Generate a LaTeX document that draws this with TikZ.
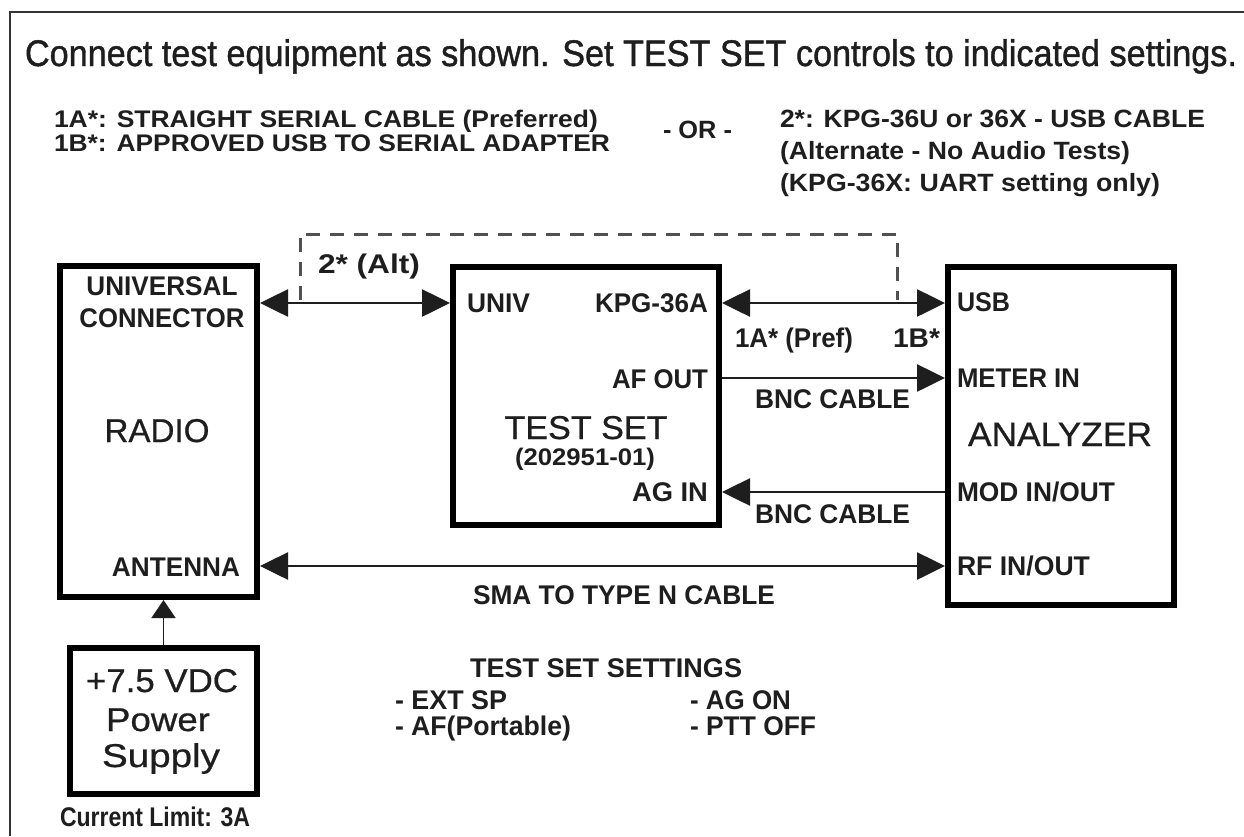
\documentclass[tikz,border=0pt]{standalone}
\usepackage{fontspec}
\setmainfont{Liberation Sans}
\newfontfamily\medfont[FakeBold=0.6]{Liberation Sans}
\newfontfamily\headfont[FakeBold=1.2]{Liberation Sans}
\usepackage{graphicx}
\usetikzlibrary{arrows.meta}
\definecolor{ink}{HTML}{1E1E1E}
\definecolor{dashc}{HTML}{505050}
\newcommand\lr[3]{\resizebox{#1pt}{\height}{\fontsize{#2pt}{#2pt}\selectfont\medfont #3}}
\newcommand\lh[3]{\resizebox{#1pt}{\height}{\fontsize{#2pt}{#2pt}\selectfont\headfont #3}}
\newcommand\lbf[3]{\resizebox{#1pt}{\height}{\fontsize{#2pt}{#2pt}\selectfont\bfseries #3}}
\tikzset{
  lw/.style={inner sep=0pt, outer sep=0pt, anchor=base west, text=ink},
  le/.style={inner sep=0pt, outer sep=0pt, anchor=base east, text=ink},
  lc/.style={inner sep=0pt, outer sep=0pt, anchor=base, text=ink},
  unit/.style={draw=black, line width=6pt, inner sep=0pt},
  cable/.style={draw=ink, line width=2.6pt},
  tipbig/.tip={Triangle[length=28pt,width=27pt]},
  both/.style={cable, tipbig-tipbig},
  toend/.style={cable, -tipbig},
  tostart/.style={cable, tipbig-},
  altline/.style={draw=dashc, line width=3pt, dash pattern=on 14pt off 10pt},
  frame/.style={draw=black!80, line width=2pt}
}
\begin{document}
\begin{tikzpicture}[x=1pt,y=-1pt]
\useasboundingbox (0,0) rectangle (1244,836);
\fill[white] (0,0) rectangle (1244,836);
% outer frame
\coordinate (fa) at (10,836);
\coordinate (fb) at (10,12);
\coordinate (fc) at (1244,12);
\draw[frame] (fa) -- (fb) -- (fc);

% title and header notes
\node[lw] (title) at (25,66) {\lh{1212}{37}{Connect test equipment as shown. Set TEST SET controls to indicated settings.}};
\node[lw] (h1a) at (54,127) {\lbf{544}{24}{1A*: STRAIGHT SERIAL CABLE (Preferred)}};
\node[lw] (h1b) at (54,151) {\lbf{556}{24}{1B*: APPROVED USB TO SERIAL ADAPTER}};
\node[lw] (hor) at (663,138) {\lbf{69}{25}{- OR -}};
\node[lw] (h2a) at (780,127) {\lbf{425}{25}{2*: KPG-36U or 36X - USB CABLE}};
\node[lw] (h2b) at (780,159) {\lbf{350}{25}{(Alternate - No Audio Tests)}};
\node[lw] (h2c) at (780,191) {\lbf{380}{25}{(KPG-36X: UART setting only)}};

% boxes
\node[unit, minimum width=197pt, minimum height=331pt] (radio) at (158.5,431.5) {};
\node[unit, minimum width=187pt, minimum height=146pt] (psu) at (163.5,721) {};
\node[unit, minimum width=266pt, minimum height=258pt] (ts) at (586,396) {};
\node[unit, minimum width=226pt, minimum height=338pt] (an) at (1061,436) {};

% radio labels
\node[lc] (runiv) at (162,295) {\lbf{151}{27}{UNIVERSAL}};
\node[lc] (rconn) at (162,327) {\lbf{165}{27}{CONNECTOR}};
\node[lc] (rname) at (157,442) {\lr{105}{33}{RADIO}};
\node[le] (rant) at (240,576) {\lbf{128}{27}{ANTENNA}};

% power supply
\node[lc] (p1) at (162,692) {\lr{152}{33}{+7.5 VDC}};
\node[lc] (p2) at (158,731) {\lr{104}{33}{Power}};
\node[lc] (p3) at (161,767) {\lr{118}{33}{Supply}};
\node[lw] (plim) at (60,826) {\lbf{190}{27}{Current Limit: 3A}};

% test set labels
\node[lw] (tuniv) at (467,312) {\lbf{63}{27}{UNIV}};
\node[le] (tkpg) at (708,312) {\lbf{113}{27}{KPG-36A}};
\node[le] (taf) at (708,388) {\lbf{96}{27}{AF OUT}};
\node[lc] (tname) at (586,439) {\lr{163}{33}{TEST SET}};
\node[lc] (tnum) at (585,465) {\lbf{140}{24}{(202951-01)}};
\node[le] (tag) at (708,501) {\lbf{76}{27}{AG IN}};

% analyzer labels
\node[lw] (ausb) at (957,311) {\lbf{53}{27}{USB}};
\node[lw] (amet) at (957,387) {\lbf{123}{27}{METER IN}};
\node[lc] (aname) at (1060,446) {\lr{184}{34}{ANALYZER}};
\node[lw] (amod) at (957,501) {\lbf{158}{27}{MOD IN/OUT}};
\node[lw] (arf) at (957,575) {\lbf{133}{27}{RF IN/OUT}};

% connectors
\draw[both] (radio.east |- 0,303) -- (ts.west |- 0,303);
\draw[both] (ts.east |- 0,303) -- (an.west |- 0,303);
\draw[toend] (ts.east |- 0,378) -- (an.west |- 0,378);
\draw[tostart] (ts.east |- 0,492) -- (an.west |- 0,492);
\draw[both] (radio.east |- 0,566) -- (an.west |- 0,566);
\draw[draw=ink, line width=1.6pt, -{Triangle[length=18pt,width=24pt]}] (psu.north) -- (psu.north |- radio.south);

% alternate USB route
\coordinate (alta) at (300,300);
\coordinate (altb) at (897,300);
\draw[altline] (alta) -- (300,234) -- (897,234) -- (altb);

% connector labels
\node[lw] (lalt) at (318,273) {\lbf{102}{27}{2* (Alt)}};
\node[lw] (lpref) at (735,347) {\lbf{118}{27}{1A* (Pref)}};
\node[lw] (l1b) at (893,347) {\lbf{47}{27}{1B*}};
\node[lw] (lbnc1) at (755,408) {\lbf{155}{27}{BNC CABLE}};
\node[lw] (lbnc2) at (755,523) {\lbf{155}{27}{BNC CABLE}};
\node[lw] (lsma) at (473,604) {\lbf{302}{27}{SMA TO TYPE N CABLE}};

% settings
\node[lw] (sset) at (470,677) {\lbf{272}{27}{TEST SET SETTINGS}};
\node[lw] (s1) at (395,709) {\lbf{112}{27}{- EXT SP}};
\node[lw] (s2) at (395,735) {\lbf{176}{27}{- AF(Portable)}};
\node[lw] (s3) at (690,709) {\lbf{101}{27}{- AG ON}};
\node[lw] (s4) at (690,735) {\lbf{126}{27}{- PTT OFF}};
\end{tikzpicture}
\end{document}
